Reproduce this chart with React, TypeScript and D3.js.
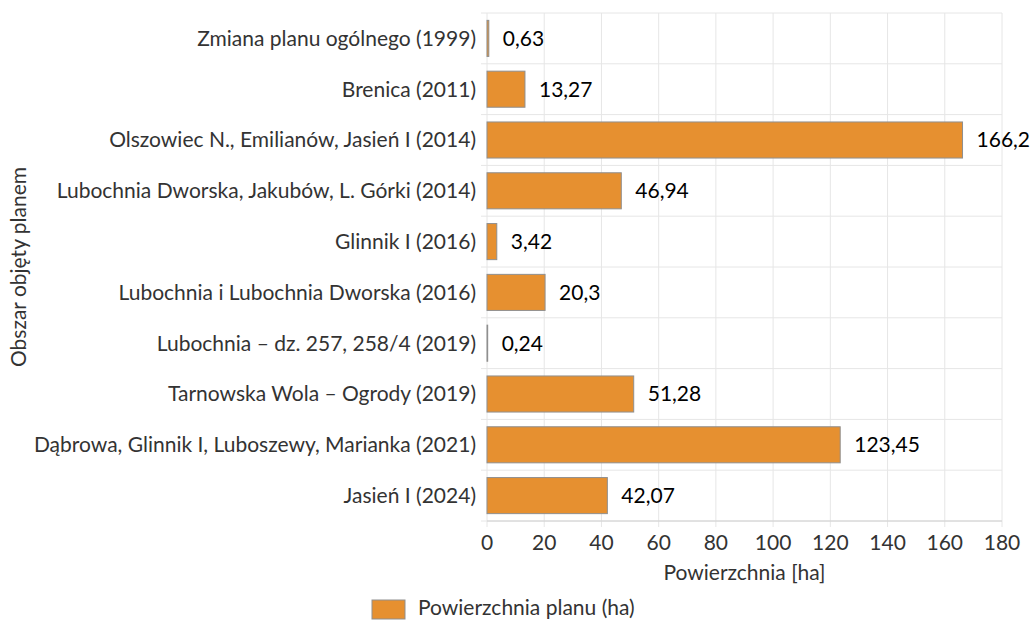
import React from 'react'
import * as d3 from 'd3'

const width = 1034
const height = 620
const margin = { top: 13, right: 32, bottom: 99, left: 487 }
const barColor = '#e69030'
const font = 'Lato, "Open Sans", sans-serif'
const fontSize = 21

const categories = [
  'Zmiana planu ogólnego (1999)',
  'Brenica (2011)',
  'Olszowiec N., Emilianów, Jasień I (2014)',
  'Lubochnia Dworska, Jakubów, L. Górki (2014)',
  'Glinnik I (2016)',
  'Lubochnia i Lubochnia Dworska (2016)',
  'Lubochnia – dz. 257, 258/4 (2019)',
  'Tarnowska Wola – Ogrody (2019)',
  'Dąbrowa, Glinnik I, Luboszewy, Marianka (2021)',
  'Jasień I (2024)',
]
const values = [0.63, 13.27, 166.2, 46.94, 3.42, 20.3, 0.24, 51.28, 123.45, 42.07]
const valueLabels = ['0,63', '13,27', '166,2', '46,94', '3,42', '20,3', '0,24', '51,28', '123,45', '42,07']
const xTicks = [0, 20, 40, 60, 80, 100, 120, 140, 160, 180]

const xTitle = 'Powierzchnia [ha]'
const yTitle = 'Obszar objęty planem'
const legendLabel = 'Powierzchnia planu (ha)'

const BarChart = () => {
  const innerW = width - margin.left - margin.right
  const innerH = height - margin.top - margin.bottom

  const x = d3.scaleLinear().domain([0, 180]).range([0, innerW])
  const y = d3.scaleBand().domain(categories).range([0, innerH]).paddingInner(0.29).paddingOuter(0.145)
  const step = y.step()
  const bounds = d3.range(categories.length + 1).map(i => i * step)

  return (
    <svg width={width} height={height} style={{ position: 'absolute', left: 0, top: 0, background: '#fff' }}>
      <g transform={`translate(${margin.left},${margin.top})`}>
        {/* grid */}
        {xTicks.map(t => (
          <line key={'v' + t} x1={x(t)} x2={x(t)} y1={0} y2={innerH + 6} stroke="#e6e6e6" />
        ))}
        {bounds.map((b, i) => (
          <line key={'h' + i} x1={-6} x2={innerW} y1={b} y2={b} stroke="#e6e6e6" />
        ))}
        <line x1={0} x2={innerW} y1={innerH} y2={innerH} stroke="#d0d0d0" />

        {/* bars */}
        {categories.map((c, i) => (
          <rect
            key={c}
            x={x(0)}
            y={y(c)}
            width={x(values[i])}
            height={y.bandwidth()}
            fill={barColor}
            stroke="#8f8f8f"
            strokeWidth={1}
          />
        ))}

        {/* value labels */}
        {categories.map((c, i) => (
          <text
            key={'l' + c}
            x={x(values[i]) + 14}
            y={(y(c) as number) + y.bandwidth() / 2}
            dy="0.35em"
            fontFamily={font}
            fontSize={fontSize}
            fill="#000"
          >
            {valueLabels[i]}
          </text>
        ))}

        {/* category labels */}
        {categories.map(c => (
          <text
            key={'c' + c}
            x={-11}
            y={(y(c) as number) + y.bandwidth() / 2}
            dy="0.35em"
            textAnchor="end"
            fontFamily={font}
            fontSize={fontSize}
            fill="#333"
          >
            {c}
          </text>
        ))}

        {/* x tick labels */}
        {xTicks.map(t => (
          <text
            key={'t' + t}
            x={x(t)}
            y={innerH + 29}
            textAnchor="middle"
            fontFamily={font}
            fontSize={fontSize}
            fill="#333"
          >
            {t}
          </text>
        ))}

        <text x={innerW / 2} y={innerH + 59} textAnchor="middle" fontFamily={font} fontSize={fontSize} fill="#333">
          {xTitle}
        </text>
        <text
          transform={`translate(${-margin.left + 26},${innerH / 2}) rotate(-90)`}
          textAnchor="middle"
          fontFamily={font}
          fontSize={fontSize}
          fill="#333"
        >
          {yTitle}
        </text>
      </g>

      {/* legend */}
      <rect x={372} y={600} width={33} height={19} fill={barColor} stroke="#8f8f8f" />
      <text x={418} y={615} fontFamily={font} fontSize={fontSize} fill="#333">
        {legendLabel}
      </text>
    </svg>
  )
}

export default function App() {
  return <BarChart />
}
